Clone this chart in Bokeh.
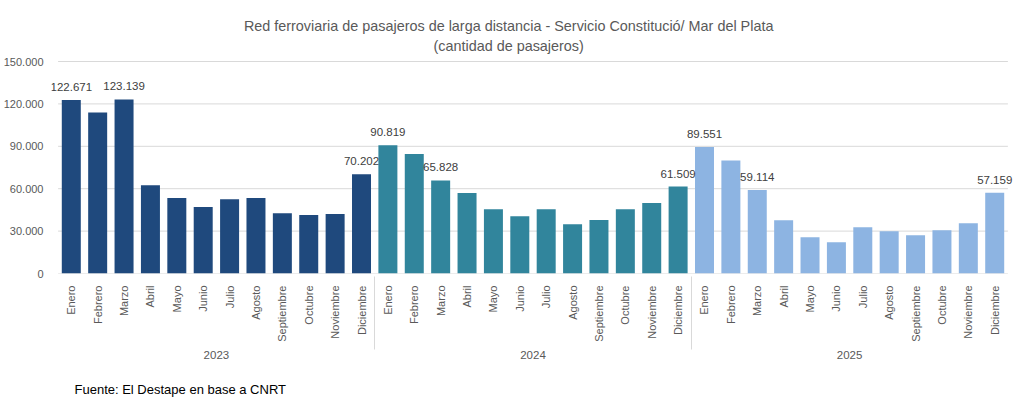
import math
from bokeh.plotting import figure
from bokeh.models import FactorRange, ColumnDataSource, CustomJSTickFormatter, Range1d, Title, Label
from bokeh.embed import file_html
from bokeh.resources import INLINE
from bokeh.core.properties import value

years = ["2023", "2024", "2025"]
months = ["Enero", "Febrero", "Marzo", "Abril", "Mayo", "Junio", "Julio",
          "Agosto", "Septiembre", "Octubre", "Noviembre", "Diciembre"]
pax_2023 = [122671, 114000, 123139, 62400, 53400, 47100, 52500, 53400, 42600, 41400, 42100, 70202]
pax_2024 = [90819, 84500, 65828, 56900, 45400, 40500, 45400, 34800, 37900, 45400, 49900, 61509]
pax_2025 = [89551, 80000, 59114, 37700, 25600, 22100, 32700, 29900, 27100, 30600, 35500, 57159]
year_colors = ["#1F497D", "#31859C", "#8DB4E2"]
labeled_months = ["Enero", "Marzo", "Diciembre"]
y_ticks = [0, 30000, 60000, 90000, 120000, 150000]

title_line1 = "Red ferroviaria de pasajeros de larga distancia - Servicio Constitució/ Mar del Plata"
title_line2 = "(cantidad de pasajeros)"
footer = "Fuente: El Destape en base a CNRT"

FONT = "Liberation Sans"
GREY = "#595959"
GRID = "#D9D9D9"

# layout (canvas pixels)
H = 400
TOP = 5            # frame top
Y0_PX = 273        # pixel row of value 0
YMAX_PX = 61       # pixel row of 150000
per_px = (y_ticks[-1] - y_ticks[0]) / (Y0_PX - YMAX_PX)
y_end = y_ticks[-1] + (YMAX_PX - TOP) * per_px

series = [pax_2023, pax_2024, pax_2025]
xs, vals, cols = [], [], []
lx, lv, lt = [], [], []
for y, s, c in zip(years, series, year_colors):
    for m, v in zip(months, s):
        xs.append((y, m)); vals.append(v); cols.append(c)
        if m in labeled_months:
            lx.append((y, m)); lv.append(v); lt.append(f"{v:,}".replace(",", "."))

src = ColumnDataSource(dict(x=xs, v=vals, c=cols))
lsrc = ColumnDataSource(dict(x=lx, v=lv, t=lt))

p = figure(width=1014, height=H, output_backend="svg", toolbar_location=None,
           x_range=FactorRange(*xs, factor_padding=0, group_padding=0,
                               range_padding=0.25, range_padding_units="absolute"),
           y_range=Range1d(0, y_end),
           min_border_left=42, min_border_right=0, min_border_top=TOP,
           min_border_bottom=H - Y0_PX)
p.outline_line_color = None
p.background_fill_color = "white"
p.border_fill_color = "white"

# horizontal gridlines limited to the category extent
first, last = xs[0], xs[-1]
gsrc = ColumnDataSource(dict(x0=[(first[0], first[1], -0.5)] * len(y_ticks),
                             x1=[(last[0], last[1], 0.5)] * len(y_ticks),
                             y=y_ticks))
p.segment(x0="x0", y0="y", x1="x1", y1="y", source=gsrc, line_color=GRID, line_width=1)

p.vbar(x="x", top="v", width=0.72, fill_color="c", line_color=None, source=src)
p.text(x="x", y="v", text="t", source=lsrc, text_align="center", text_baseline="alphabetic",
       y_offset=-13, text_font=value(FONT), text_font_size="11.5px", text_color="#404040")

# title, centred above the chart
n = len(xs)
title_x = n * (502 - 49.0) / (1004.0 - 49.0)
p.add_layout(Label(x=title_x, y=(Y0_PX - 25) * per_px, text=title_line1, text_align="center",
                   text_baseline="middle", text_font=FONT, text_font_size="14.4px",
                   text_color=GREY))
p.add_layout(Label(x=title_x, y=(Y0_PX - 45) * per_px, text=title_line2, text_align="center",
                   text_baseline="middle", text_font=FONT, text_font_size="14.4px",
                   text_color=GREY))

p.xgrid.grid_line_color = None
p.ygrid.grid_line_color = None
p.yaxis.ticker = y_ticks
p.yaxis.formatter = CustomJSTickFormatter(code="return tick.toString().replace(/\\B(?=(\\d{3})+(?!\\d))/g, '.');")
p.yaxis.axis_line_color = None
p.yaxis.major_tick_line_color = None
p.yaxis.minor_tick_line_color = None
p.yaxis.major_label_text_font = FONT
p.yaxis.major_label_text_font_size = "11px"
p.yaxis.major_label_text_color = GREY
p.yaxis.major_label_standoff = 2

xa = p.xaxis[0]
xa.axis_line_color = None
xa.major_tick_line_color = None
xa.minor_tick_line_color = None
xa.major_label_orientation = math.pi / 2
xa.major_label_standoff = 6
xa.major_label_text_font = FONT
xa.major_label_text_font_size = "11px"
xa.major_label_text_color = GREY
xa.group_text_font = FONT
xa.group_text_font_size = "11.5px"
xa.group_text_font_style = "normal"
xa.group_text_color = GREY
xa.separator_line_color = GRID
xa.separator_line_width = 1

# spacer between axis and source note
p.add_layout(Title(text=" ", text_font_size="1px", standoff=15), "below")
p.add_layout(Title(text=footer, align="left", offset=23, text_font=FONT,
                   text_font_size="13px", text_font_style="normal", text_color="black",
                   standoff=0), "below")

open("out.html", "w").write(file_html(p, INLINE))
